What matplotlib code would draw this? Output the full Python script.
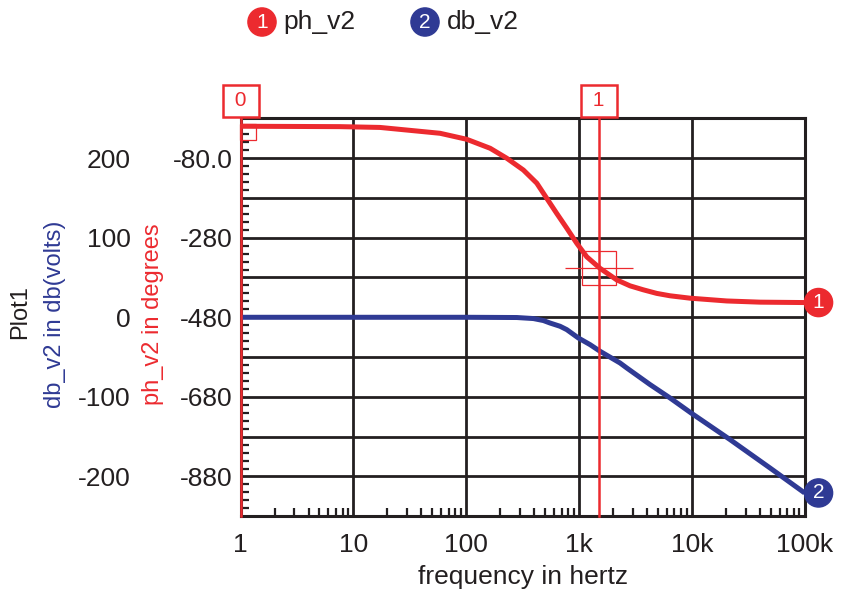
import matplotlib
matplotlib.use('Agg')
import numpy as np
import matplotlib.pyplot as plt
from matplotlib.ticker import FixedLocator, FuncFormatter, MultipleLocator, LogLocator, NullFormatter
from matplotlib import transforms

plt.rcParams['font.family'] = ['Liberation Sans', 'DejaVu Sans']

RED = '#ec2a2f'
BLUE = '#2f3a94'
INK = '#231f20'

# ph_v2 (degrees)
ph_freq = [1, 7.6, 17.2, 41.7, 58.6, 101, 163, 229, 321, 422, 517, 634, 778, 954,
           1170, 1535, 2158, 2832, 3715, 4887, 6412, 9640, 20400, 40250, 100000]
ph_deg = [0, -1, -3, -13.6, -17.7, -32.8, -55.4, -80.5, -110, -143, -181, -219, -256, -294,
          -328, -357, -386, -401, -411, -420, -426, -432, -439, -442, -443]

# db_v2 (dB)
db_freq = [1, 10, 100, 281, 394, 483, 553, 679, 778, 986, 1250, 1535, 2308, 2650, 4256,
           6412, 9840, 21830, 49300, 100000]
db_val = [0, 0, 0, -0.3, -1.6, -4.1, -7.2, -11.3, -15.5, -26, -34.3, -42.7, -57.4, -63.7,
          -84.5, -101.4, -120.2, -153.7, -189.3, -220.7]

x_ticks = [1, 10, 100, 1e3, 1e4, 1e5]
x_labels = ['1', '10', '100', '1k', '10k', '100k']
db_ticks = [-200, -100, 0, 100, 200]
ph_ticks = [-880, -680, -480, -280, -80]
ph_labels = ['-880', '-680', '-480', '-280', '-80.0']

cursor_freq = [1, 1500]
cursor_names = ['0', '1']
cursor1_phase = -355

FS = 19

fig = plt.figure(figsize=(8.47, 5.92), dpi=100)
ax = fig.add_axes([0.2841, 0.1279, 0.6659, 0.6723])
ax2 = ax.twinx()

# dB axis (outer column of labels)
ax.set_xscale('log')
ax.set_xlim(1, 1e5)
ax.set_ylim(-250, 250)
ax.yaxis.set_major_locator(MultipleLocator(50))
ax.yaxis.set_major_formatter(FuncFormatter(lambda v, p: '%d' % v if v in db_ticks else ''))
ax.yaxis.set_minor_locator(MultipleLocator(10))
ax.tick_params(axis='y', which='major', length=0, pad=79, labelsize=FS, labelcolor=INK)
ax.tick_params(axis='y', which='minor', direction='in', length=6, width=1.6, color=INK)
ax.xaxis.set_major_locator(FixedLocator(x_ticks))
ax.set_xticklabels(x_labels)
ax.xaxis.set_minor_locator(LogLocator(base=10, subs=np.arange(2, 10)))
ax.xaxis.set_minor_formatter(NullFormatter())
ax.tick_params(axis='x', which='major', length=0, pad=12, labelsize=FS, labelcolor=INK)
ax.tick_params(axis='x', which='minor', direction='in', length=6, width=1.6, color=INK)
ax.grid(True, which='major', color=INK, lw=2.0)
for s in ax.spines.values():
    s.set_linewidth(2.2)
    s.set_color(INK)
ax.set_xlabel('frequency in hertz', fontsize=FS, color=INK, labelpad=6)

ax.plot(db_freq, db_val, color=BLUE, lw=3.6, solid_capstyle='butt', zorder=3)

# phase axis (inner column of labels)
ax2.set_ylim(-980, 20)
ax2.yaxis.tick_left()
ax2.set_yticks(ph_ticks)
ax2.set_yticklabels(ph_labels)
ax2.tick_params(axis='y', length=0, pad=6, labelsize=FS, labelcolor=INK)
for s in ax2.spines.values():
    s.set_visible(False)

ax2.plot(ph_freq, ph_deg, color=RED, lw=3.6, solid_capstyle='butt', zorder=3)

# cursors
top = transforms.blended_transform_factory(ax.transData, ax.transAxes)
for f, name in zip(cursor_freq, cursor_names):
    ax.plot([f, f], [0, 1], transform=top, color=RED, lw=1.8, clip_on=False, zorder=4)
    ax.text(f, 1.044, ' ' + name + ' ', transform=top, ha='center', va='center', fontsize=15,
            color=RED, bbox=dict(boxstyle='square,pad=0.3', fc='white', ec=RED, lw=1.8), zorder=5)

sq0 = transforms.offset_copy(ax2.transData, fig=fig, x=7, y=-6, units='dots')
ax2.plot([cursor_freq[0]], [ph_deg[0]], marker='s', ms=12, mfc='none', mec=RED, mew=0.9,
         transform=sq0, clip_on=False)
ax2.plot([cursor_freq[1]], [cursor1_phase], marker='s', ms=24, mfc='none', mec=RED, mew=0.9)
ax2.plot([cursor_freq[1]], [cursor1_phase], marker='_', ms=49, mec=RED, mew=0.9)

# trace end markers
ax2.annotate('1', xy=(ph_freq[-1], ph_deg[-1]), xytext=(10, 0), textcoords='offset points',
             ha='center', va='center', fontsize=15, color='white', annotation_clip=False,
             bbox=dict(boxstyle='circle,pad=0.22', fc=RED, ec=RED))
ax.annotate('2', xy=(db_freq[-1], db_val[-1]), xytext=(10, 0), textcoords='offset points',
            ha='center', va='center', fontsize=15, color='white', annotation_clip=False,
            bbox=dict(boxstyle='circle,pad=0.22', fc=BLUE, ec=BLUE), zorder=6)

# axis titles
fig.text(20 / 847, 1 - 312 / 592, 'Plot1', rotation=90, ha='center', va='center', fontsize=17, color=INK)
fig.text(55 / 847, 1 - 314 / 592, 'db_v2 in db(volts)', rotation=90, ha='center', va='center',
         fontsize=17, color=BLUE)
fig.text(153 / 847, 1 - 314 / 592, 'ph_v2 in degrees', rotation=90, ha='center', va='center',
         fontsize=17, color=RED)

# legend
fig.text(262 / 847, 1 - 22 / 592, '1', ha='center', va='center', fontsize=15, color='white',
         bbox=dict(boxstyle='circle,pad=0.22', fc=RED, ec=RED))
fig.text(283 / 847, 1 - 22 / 592, 'ph_v2', ha='left', va='center', fontsize=FS, color=INK)
fig.text(425 / 847, 1 - 22 / 592, '2', ha='center', va='center', fontsize=15, color='white',
         bbox=dict(boxstyle='circle,pad=0.22', fc=BLUE, ec=BLUE))
fig.text(447 / 847, 1 - 22 / 592, 'db_v2', ha='left', va='center', fontsize=FS, color=INK)

fig.savefig('out.png', dpi=100)
